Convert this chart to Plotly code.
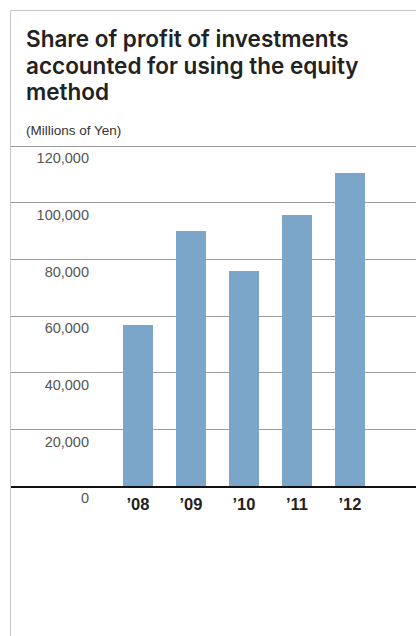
import plotly.graph_objects as go

title_lines = ["Share of profit of investments", "accounted for using the equity", "method"]
subtitle = "(Millions of Yen)"
years = ["’08", "’09", "’10", "’11", "’12"]
values = [56800, 90000, 75800, 95600, 110500]
y_ticks = [0, 20000, 40000, 60000, 80000, 100000, 120000]
y_tick_labels = ["0", "20,000", "40,000", "60,000", "80,000", "100,000", "120,000"]

W, H = 416, 636
L, R, T, B = 10, 0, 142, 150
pw = W - L - R
ph = H - T - B
y_top = 120000 * ph / (ph - 4)

x_pos = list(range(len(years)))

fig = go.Figure()
fig.add_trace(go.Bar(
    x=x_pos, y=values, width=30/53,
    marker=dict(color="#7ba6ca", line=dict(width=0)),
    hoverinfo="skip",
))

def px_x(p):
    return (p - L) / pw

def px_y(p):
    return 1 - (p - T) / ph

annotations = []
for i, line in enumerate(title_lines):
    annotations.append(dict(
        text=line,
        xref="paper", yref="paper",
        x=px_x(24), y=px_y(38.5 + i * 26.7),
        xanchor="left", yanchor="middle",
        showarrow=False,
        font=dict(family="Inter, Liberation Sans, Arial, sans-serif", size=22.5, color="#222222", weight=600),
    ))
annotations.append(dict(
    text=subtitle,
    xref="paper", yref="paper",
    x=px_x(24), y=px_y(130.5),
    xanchor="left", yanchor="middle",
    showarrow=False,
    font=dict(family="Liberation Sans, Arial, sans-serif", size=13.5, color="#333333"),
))

fig.update_layout(
    width=W, height=H,
    margin=dict(l=L, r=R, t=T, b=B, pad=0),
    paper_bgcolor="white", plot_bgcolor="white",
    showlegend=False,
    bargap=0,
    xaxis=dict(
        range=[-(138-10)/53, (416-138)/53],
        tickmode="array", tickvals=x_pos, ticktext=years,
        showgrid=False, zeroline=False,
        showline=True, linecolor="#111111", linewidth=2,
        ticks="", ticklen=0,
        ticklabelstandoff=2,
        tickfont=dict(family="Liberation Sans, Arial, sans-serif", size=16.5, color="#222222", weight="bold"),
        fixedrange=True,
    ),
    yaxis=dict(
        range=[0, y_top],
        anchor="free", position=px_x(89),
        tickmode="array", tickvals=y_ticks, ticktext=y_tick_labels,
        showgrid=True, gridcolor="#9a9a9a", gridwidth=1,
        zeroline=False, showline=False,
        ticks="", ticklen=0,
        ticklabelposition="outside bottom",
        ticklabelshift=2,
        tickfont=dict(family="Liberation Sans, Arial, sans-serif", size=14.5, color="#555555"),
        fixedrange=True,
    ),
    annotations=annotations,
    shapes=[
        dict(type="line", xref="paper", yref="paper",
             x0=px_x(10.5), x1=px_x(416), y0=px_y(10.5), y1=px_y(10.5),
             line=dict(color="#c8c8c8", width=1)),
        dict(type="line", xref="paper", yref="paper",
             x0=px_x(10.5), x1=px_x(10.5), y0=px_y(10.5), y1=px_y(636),
             line=dict(color="#c8c8c8", width=1)),
    ],
)

fig.write_html("out.html")
